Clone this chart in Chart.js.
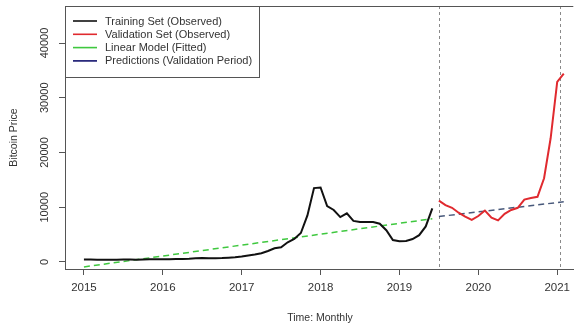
<!DOCTYPE html>
<html>
<head>
<meta charset="utf-8">
<script src="https://cdn.jsdelivr.net/npm/chart.js@4.4.1/dist/chart.umd.min.js"></script>
<style>
  html, body { margin: 0; padding: 0; background: #fff; }
</style>
</head>
<body>
<canvas id="chart" width="576" height="329"></canvas>
<script>
// monthly series, Jan 2015 .. Jun 2019 (training) and Jul 2019 .. Feb 2021 (validation)
const trainStart = 2015;
const trainValues = [
  450, 440, 430, 430, 430, 430, 440, 440, 430, 450, 480, 500,
  520, 520, 530, 560, 600, 700, 740, 700, 700, 720, 780, 850,
  1000, 1200, 1350, 1600, 2000, 2500, 2700, 3600, 4200, 5300, 8500, 13500,
  13600, 10200, 9500, 8200, 8900, 7500, 7300, 7300, 7300, 7000, 5800, 4000,
  3800, 3850, 4200, 4900, 6500, 9800
];
const validStart = 2019.5;
const validValues = [
  11200, 10400, 9900, 9000, 8300, 7700,
  8400, 9400, 8100, 7600, 8800, 9500, 9900, 11400, 11700, 11900, 15300, 22600,
  32900, 34400
];
const fittedX = [2015, 2019.417];
const fittedY = [-900, 7900];
const predX = [2019.5, 2021.083];
const predY = [8300, 11000];
const splitX = [2019.5, 2021.04];

const xTicks = [2015, 2016, 2017, 2018, 2019, 2020, 2021];
const yTicks = [0, 10000, 20000, 30000, 40000];
const seriesNames = [
  "Training Set (Observed)",
  "Validation Set (Observed)",
  "Linear Model (Fitted)",
  "Predictions (Validation Period)"
];

const FONT = "'Liberation Sans', Arial, sans-serif";
const INK = "#333";
const AXIS = "#555";

const monthly = (start, vals) => vals.map((v, i) => ({ x: start + i / 12, y: v }));
const pairs = (xs, ys) => xs.map((x, i) => ({ x, y: ys[i] }));

const rPlot = {
  id: "rPlot",
  beforeDatasetsDraw(chart) {
    const { ctx, chartArea: a, scales } = chart;
    ctx.save();
    ctx.strokeStyle = "#8a8a8a";
    ctx.lineWidth = 1;
    ctx.setLineDash([3, 3]);
    splitX.forEach(v => {
      const px = Math.round(scales.x.getPixelForValue(v)) + 0.5;
      ctx.beginPath();
      ctx.moveTo(px, a.top);
      ctx.lineTo(px, a.bottom);
      ctx.stroke();
    });
    ctx.restore();
  },
  afterDraw(chart) {
    const { ctx, chartArea: a, scales } = chart;
    ctx.save();
    // top of the box
    ctx.strokeStyle = AXIS;
    ctx.lineWidth = 1;
    ctx.beginPath();
    ctx.moveTo(a.left, a.top + 0.5);
    ctx.lineTo(a.right, a.top + 0.5);
    ctx.stroke();

    // y tick labels, vertical like R
    ctx.fillStyle = INK;
    ctx.font = "11px " + FONT;
    ctx.textAlign = "center";
    ctx.textBaseline = "middle";
    yTicks.forEach(v => {
      const py = scales.y.getPixelForValue(v);
      ctx.save();
      ctx.translate(45, py);
      ctx.rotate(-Math.PI / 2);
      ctx.fillText(String(v), 0, 0);
      ctx.restore();
    });

    // axis titles
    ctx.font = "10.5px " + FONT;
    ctx.fillText("Time: Monthly", 320, 318);
    ctx.save();
    ctx.translate(14, (a.top + a.bottom) / 2);
    ctx.rotate(-Math.PI / 2);
    ctx.fillText("Bitcoin Price", 0, 0);
    ctx.restore();

    // legend box, top-left
    const bx = a.left, by = a.top, bw = 194, bh = 71;
    ctx.fillStyle = "#fff";
    ctx.fillRect(bx, by, bw, bh);
    ctx.strokeStyle = AXIS;
    ctx.strokeRect(bx + 0.5, by + 0.5, bw, bh);
    ctx.font = "11px " + FONT;
    ctx.textAlign = "left";
    chart.data.datasets.forEach((ds, i) => {
      const ly = by + 15 + i * 13.3;
      ctx.strokeStyle = ds.legendColor || ds.borderColor;
      ctx.lineWidth = 1.6;
      ctx.setLineDash([]);
      ctx.beginPath();
      ctx.moveTo(bx + 8, ly);
      ctx.lineTo(bx + 32, ly);
      ctx.stroke();
      ctx.fillStyle = INK;
      ctx.fillText(ds.label, bx + 40, ly + 0.5);
    });
    ctx.restore();
  }
};

new Chart(document.getElementById("chart"), {
  type: "line",
  data: {
    datasets: [
      { label: seriesNames[0], data: monthly(trainStart, trainValues), borderColor: "#111", borderWidth: 2 },
      { label: seriesNames[1], data: monthly(validStart, validValues), borderColor: "#e02a2f", borderWidth: 2 },
      { label: seriesNames[2], data: pairs(fittedX, fittedY), borderColor: "#3fc83f", borderWidth: 1.5, borderDash: [6, 4] },
      { label: seriesNames[3], data: pairs(predX, predY), borderColor: "rgba(40,60,100,0.85)", legendColor: "#12126e", borderWidth: 1.5, borderDash: [6, 4] }
    ]
  },
  options: {
    responsive: false,
    animation: false,
    devicePixelRatio: 1,
    layout: { padding: { top: 6, right: 0, left: 0, bottom: 0 } },
    elements: { point: { radius: 0 }, line: { tension: 0 } },
    plugins: { legend: { display: false }, tooltip: { enabled: false } },
    scales: {
      x: {
        type: "linear",
        min: 2014.76,
        max: 2021.204,
        afterBuildTicks: s => { s.ticks = xTicks.map(v => ({ value: v })); },
        afterFit: s => { s.height = 60; },
        grid: { drawOnChartArea: false, drawTicks: true, tickLength: 6, tickColor: AXIS },
        border: { display: true, color: AXIS, width: 1 },
        ticks: { color: INK, font: { family: FONT, size: 11.5 }, padding: 6, maxRotation: 0, callback: v => String(v) }
      },
      y: {
        min: -1280,
        max: 46760,
        afterBuildTicks: s => { s.ticks = yTicks.map(v => ({ value: v })); },
        afterFit: s => { s.width = 65; },
        grid: { drawOnChartArea: false, drawTicks: true, tickLength: 6, tickColor: AXIS },
        border: { display: true, color: AXIS, width: 1 },
        ticks: { display: false }
      }
    }
  },
  plugins: [rPlot]
});
</script>
</body>
</html>
